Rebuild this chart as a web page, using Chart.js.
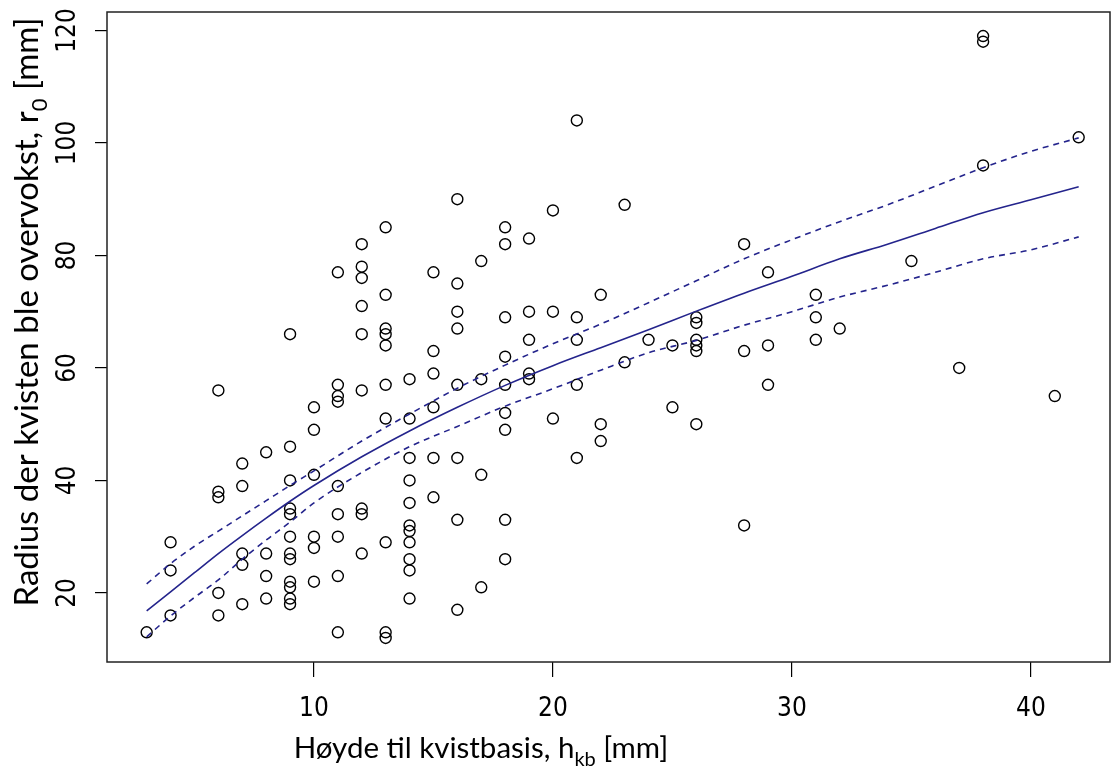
<!DOCTYPE html>
<html>
<head>
<meta charset="utf-8">
<script src="https://cdn.jsdelivr.net/npm/chart.js@4.4.0/dist/chart.umd.min.js"></script>
<style>
  body { margin: 0; background: #fff; }
  #wrap { width: 1112px; height: 772px; }
</style>
</head>
<body>
<div id="wrap"><canvas id="knots" width="1112" height="772"></canvas></div>
<script>
// knot height (mm) and radius where the knot got overgrown (mm), grouped by x
var hkb = [
  3,
  4, 4, 4,
  6, 6, 6, 6, 6,
  7, 7, 7, 7, 7,
  8, 8, 8, 8,
  9, 9, 9, 9, 9, 9, 9, 9, 9, 9, 9, 9,
  10, 10, 10, 10, 10, 10,
  11, 11, 11, 11, 11, 11, 11, 11, 11,
  12, 12, 12, 12, 12, 12, 12, 12, 12,
  13, 13, 13, 13, 13, 13, 13, 13, 13, 13,
  14, 14, 14, 14, 14, 14, 14, 14, 14, 14, 14,
  15, 15, 15, 15, 15, 15,
  16, 16, 16, 16, 16, 16, 16, 16,
  17, 17, 17, 17,
  18, 18, 18, 18, 18, 18, 18, 18, 18,
  19, 19, 19, 19, 19,
  20, 20, 20,
  21, 21, 21, 21, 21,
  22, 22, 22,
  23, 23,
  24,
  25, 25,
  26, 26, 26, 26, 26, 26,
  28, 28, 28,
  29, 29, 29,
  31, 31, 31,
  32,
  35,
  37,
  38, 38, 38,
  41,
  42
];
var r0 = [
  13,
  29, 24, 16,
  56, 38, 37, 20, 16,
  43, 39, 27, 25, 18,
  45, 27, 23, 19,
  66, 46, 40, 35, 34, 30, 27, 26, 22, 21, 19, 18,
  53, 49, 41, 30, 28, 22,
  77, 57, 55, 54, 39, 34, 30, 23, 13,
  82, 78, 76, 71, 66, 56, 35, 34, 27,
  85, 73, 67, 66, 64, 57, 51, 29, 13, 12,
  58, 51, 44, 40, 36, 32, 31, 29, 26, 24, 19,
  77, 63, 59, 53, 44, 37,
  90, 75, 70, 67, 57, 44, 33, 17,
  79, 58, 41, 21,
  85, 82, 69, 62, 57, 52, 49, 33, 26,
  83, 70, 65, 59, 58,
  88, 70, 51,
  104, 69, 65, 57, 44,
  73, 50, 47,
  89, 61,
  65,
  64, 53,
  69, 68, 65, 64, 63, 50,
  82, 63, 32,
  77, 64, 57,
  73, 69, 65,
  67,
  79,
  60,
  119, 118, 96,
  55,
  101
];

// fitted curve and its band
var fitX     = [3, 4, 5, 6, 7, 8, 9, 10, 12, 14, 16, 18, 20, 22, 24, 26, 28, 30, 32, 34, 36, 38, 40, 42];
var fitMid   = [16.8, 20.2, 23.6, 27.0, 30.2, 33.3, 36.3, 39.1, 44.2, 48.8, 53.0, 56.9, 60.4, 63.6, 66.8, 70.1, 73.3, 76.3, 79.4, 82.0, 84.8, 87.6, 89.9, 92.2];
var fitUpper = [21.6, 25.2, 28.3, 31.0, 33.7, 36.4, 39.1, 41.7, 47.0, 51.8, 56.4, 60.5, 64.3, 67.8, 71.6, 75.5, 79.4, 82.8, 86.0, 89.0, 92.3, 95.6, 98.5, 100.9];
var fitLower = [12.2, 15.9, 19.2, 22.3, 26.0, 29.4, 32.6, 36.0, 41.4, 46.0, 49.6, 53.2, 56.3, 59.6, 62.7, 64.9, 67.6, 70.0, 72.6, 74.7, 77.0, 79.4, 81.0, 83.3];

var xTicks = [10, 20, 30, 40];
var yTicks = [20, 40, 60, 80, 100, 120];

var xTitle = ['Høyde til kvistbasis, h', 'kb', ' [mm]'];
var yTitle = ['Radius der kvisten ble overvokst, r', '0', ' [mm]'];

function pairs(xs, ys) {
  return xs.map(function (x, i) { return { x: x, y: ys[i] }; });
}

function drawTitle(ctx, parts, cx, baseY, angle, size) {
  var big = size + 'px Lato';
  var small = Math.round(size * 0.68) + 'px Lato';
  ctx.font = big;
  var w0 = ctx.measureText(parts[0]).width;
  var w2 = ctx.measureText(parts[2]).width;
  ctx.font = small;
  var w1 = ctx.measureText(parts[1]).width;
  var x = -(w0 + w1 + w2) / 2;
  ctx.save();
  ctx.translate(cx, baseY);
  ctx.rotate(angle);
  ctx.fillStyle = '#000';
  ctx.textAlign = 'left';
  ctx.textBaseline = 'alphabetic';
  ctx.font = big;   ctx.fillText(parts[0], x, 0); x += w0;
  ctx.font = small; ctx.fillText(parts[1], x, size * 0.28); x += w1;
  ctx.font = big;   ctx.fillText(parts[2], x, 0);
  ctx.restore();
}

var boxAndTitles = {
  id: 'boxAndTitles',
  afterDraw: function (chart) {
    var ctx = chart.ctx, a = chart.chartArea;
    ctx.save();
    ctx.strokeStyle = '#222';
    ctx.lineWidth = 1.5;
    ctx.strokeRect(a.left, a.top, a.right - a.left, a.bottom - a.top);
    ctx.restore();
    drawTitle(ctx, xTitle, 481, 758, 0, 29.5);
    drawTitle(ctx, yTitle, 38, 312, -Math.PI / 2, 33);
  }
};

var tickFont = { family: '"Liberation Sans Narrow", "Arial Narrow", "DejaVu Sans Condensed", sans-serif', size: 26 };
var navy = '#24248c';

new Chart(document.getElementById('knots'), {
  type: 'scatter',
  data: {
    datasets: [
      {
        label: 'fit',
        data: pairs(fitX, fitMid),
        showLine: true,
        borderColor: navy,
        borderWidth: 1.6,
        pointRadius: 0,
        cubicInterpolationMode: 'monotone'
      },
      {
        label: 'upper',
        data: pairs(fitX, fitUpper),
        showLine: true,
        borderColor: navy,
        borderWidth: 1.6,
        borderDash: [6, 5],
        pointRadius: 0,
        cubicInterpolationMode: 'monotone'
      },
      {
        label: 'lower',
        data: pairs(fitX, fitLower),
        showLine: true,
        borderColor: navy,
        borderWidth: 1.6,
        borderDash: [6, 5],
        pointRadius: 0,
        cubicInterpolationMode: 'monotone'
      },
      {
        label: 'knots',
        data: pairs(hkb, r0),
        pointStyle: 'circle',
        pointRadius: 5.5,
        pointBorderWidth: 1.4,
        pointBorderColor: '#000',
        pointBackgroundColor: 'rgba(0,0,0,0)'
      }
    ]
  },
  options: {
    responsive: false,
    animation: false,
    layout: { autoPadding: false, padding: { top: 12, right: 2, left: 0, bottom: 0 } },
    plugins: {
      legend: { display: false },
      tooltip: { enabled: false }
    },
    scales: {
      x: {
        type: 'linear',
        min: 1.34,
        max: 43.31,
        afterBuildTicks: function (scale) {
          scale.ticks = xTicks.map(function (v) { return { value: v }; });
        },
        afterFit: function (scale) {
          scale.height = 110;
          scale.paddingLeft = 0;
          scale.paddingRight = 0;
        },
        border: { display: false },
        grid: { drawOnChartArea: false, drawTicks: true, tickLength: 15, color: '#000', lineWidth: 1.2 },
        ticks: { font: tickFont, color: '#000', padding: 17, maxRotation: 0 }
      },
      y: {
        type: 'linear',
        min: 7.72,
        max: 123.28,
        afterBuildTicks: function (scale) {
          scale.ticks = yTicks.map(function (v) { return { value: v }; });
        },
        afterFit: function (scale) {
          scale.width = 107;
          scale.paddingTop = 0;
          scale.paddingBottom = 0;
        },
        border: { display: false },
        grid: { drawOnChartArea: false, drawTicks: true, tickLength: 12, color: '#000', lineWidth: 1.2 },
        ticks: { font: tickFont, color: '#000', padding: 4, minRotation: 90, maxRotation: 90, crossAlign: 'center' }
      }
    }
  },
  plugins: [boxAndTitles]
});
</script>
</body>
</html>
